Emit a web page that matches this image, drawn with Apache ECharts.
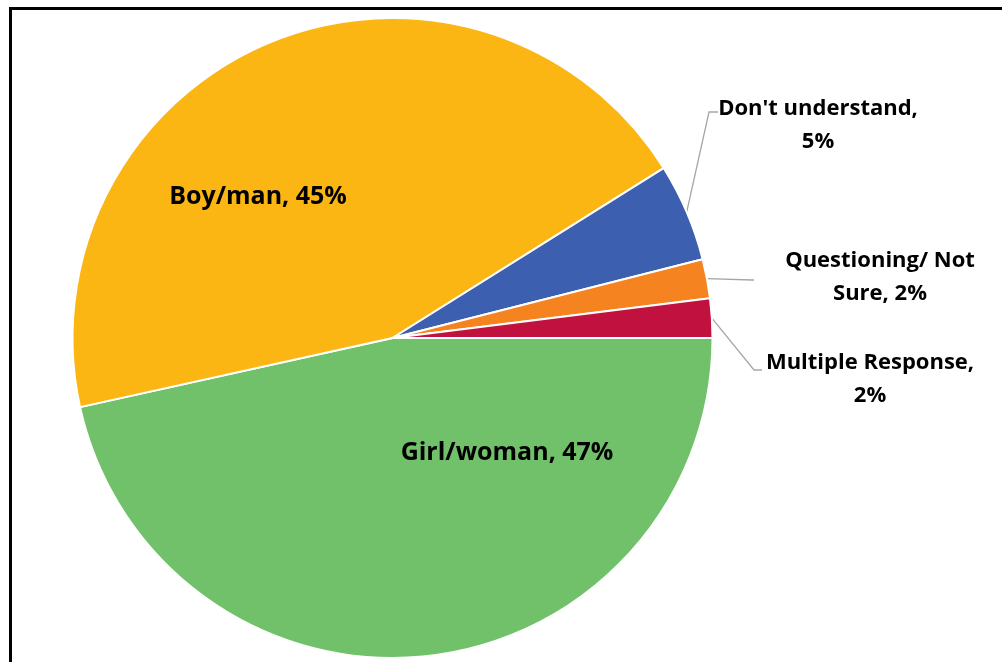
<!DOCTYPE html>
<html>
<head>
<meta charset="utf-8">
<script src="https://cdn.jsdelivr.net/npm/echarts@6/dist/echarts.min.js"></script>
<style>
  html, body { margin: 0; padding: 0; background: #fff; overflow: hidden; }
  #wrap { position: relative; width: 1002px; height: 662px; overflow: hidden; }
  #chart { position: absolute; left: 0; top: 0; width: 1002px; height: 662px; }
  #frame { position: absolute; left: 9px; top: 7px; width: 1200px; height: 900px;
           border: 3px solid #000; box-sizing: border-box; pointer-events: none; }
</style>
</head>
<body>
<div id="wrap">
  <div id="chart"></div>
  <div id="frame"></div>
</div>
<script>
// Gender identity responses (percent of respondents)
const categories = ['Girl/woman', 'Boy/man', "Don't understand", 'Questioning/ Not Sure', 'Multiple Response'];
const values = [47, 45, 5, 2, 2];
const colors = ['#71C16A', '#FCB614', '#3D5FAF', '#F5831F', '#C1123F'];
// Where each label's text is wrapped onto a second line
const labelLineBreaks = [null, null, "Don't understand,", 'Questioning/ Not', 'Multiple Response,'];
const insideSlices = [true, true, false, false, false];

// Label placement: [centerX, centerY] for the text block,
// plus [elbowX, elbowY, endX] for the leader line of outside labels
const labelPlacement = [
  { x: 507, y: 453 },
  { x: 258, y: 197 },
  { x: 818, y: 125, elbow: [709, 112, 718] },
  { x: 880, y: 277, elbow: [752, 280, 754] },
  { x: 870, y: 379, elbow: [754, 370, 762] }
];

function labelText(i) {
  const full = categories[i] + ', ' + values[i] + '%';
  const head = labelLineBreaks[i];
  if (!head) return full;
  return head + '\n' + full.slice(head.length).trim();
}

const pieData = categories.map((name, i) => {
  const item = { name: name, value: values[i], itemStyle: { color: colors[i] } };
  if (insideSlices[i]) {
    item.label = { position: 'inside', fontSize: 25, lineHeight: 30 };
    item.labelLine = { show: false };
  }
  return item;
});

const chart = echarts.init(document.getElementById('chart'), null, { renderer: 'canvas' });
chart.setOption({
  backgroundColor: '#ffffff',
  animation: false,
  series: [{
    type: 'pie',
    center: [392.5, 338],
    radius: 320,
    startAngle: 0,
    clockwise: true,
    avoidLabelOverlap: false,
    data: pieData,
    itemStyle: { borderColor: '#ffffff', borderWidth: 2 },
    label: {
      show: true,
      position: 'outside',
      formatter: p => labelText(p.dataIndex),
      fontFamily: '"Open Sans", "DejaVu Sans", sans-serif',
      fontWeight: 'bold',
      fontSize: 22,
      lineHeight: 33,
      color: '#000000',
      align: 'center'
    },
    labelLine: {
      show: true,
      length: 15,
      length2: 10,
      smooth: false,
      lineStyle: { color: '#A6A6A6', width: 1.3 }
    },
    labelLayout: function (params) {
      const i = params.dataIndex;
      const pl = labelPlacement[i];
      const out = { x: pl.x, y: pl.y, align: 'center', verticalAlign: 'middle' };
      if (pl.elbow && params.labelLinePoints) {
        const start = params.labelLinePoints[0];
        out.labelLinePoints = [
          [start[0], start[1]],
          [pl.elbow[0], pl.elbow[1]],
          [pl.elbow[2], pl.elbow[1]]
        ];
      }
      return out;
    }
  }]
});
</script>
</body>
</html>
